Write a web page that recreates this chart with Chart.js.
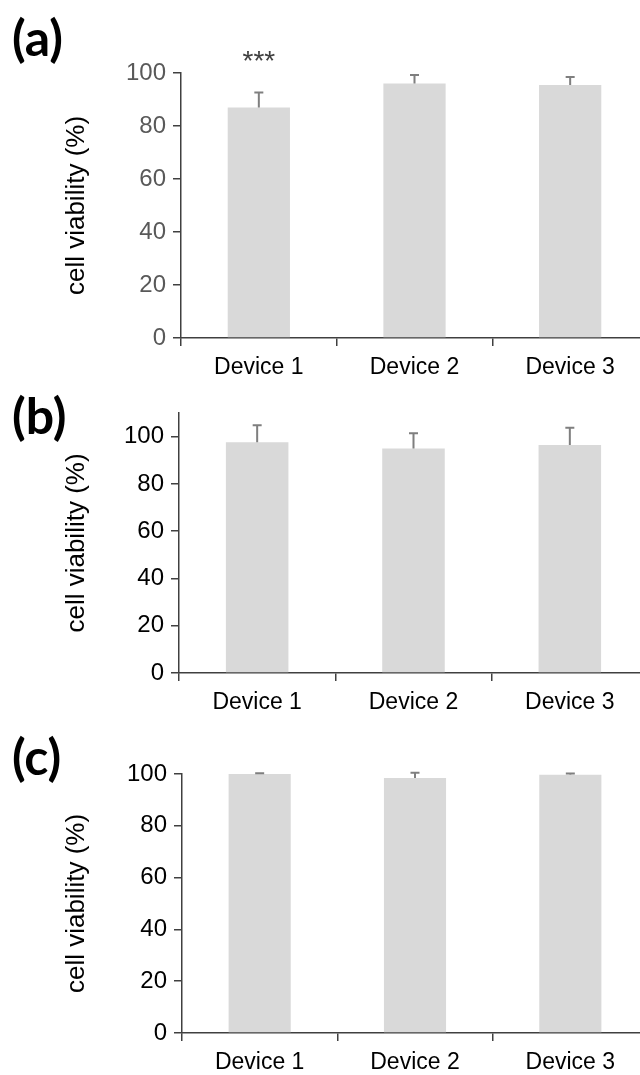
<!DOCTYPE html>
<html><head><meta charset="utf-8">
<script src="https://cdn.jsdelivr.net/npm/chart.js@4/dist/chart.umd.min.js"></script>
<style>
html,body{margin:0;padding:0;background:#fff;width:640px;height:1075px;overflow:hidden;position:relative}
canvas{position:absolute;left:0}
.lbl{position:absolute;font-family:Lato,'Open Sans',sans-serif;font-weight:bold;font-size:50px;line-height:1;color:#000}
</style></head><body>
<div class="lbl" style="left:12px;top:12px">(a)</div>
<div class="lbl" style="left:12px;top:390px">(b)</div>
<div class="lbl" style="left:12px;top:731px">(c)</div>
<canvas id="ca" width="700" height="390" style="top:0px"></canvas>
<canvas id="cb" width="700" height="340" style="top:380px"></canvas>
<canvas id="cc" width="700" height="355" style="top:720px"></canvas>
<script>
const categories = ['Device 1', 'Device 2', 'Device 3'];
const viabilityA = [87, 96, 95.5];
const errorA = [5.6, 3.2, 3.0];
const viabilityB = [97.6, 95.0, 96.5];
const errorB = [7.2, 6.4, 7.3];
const viabilityC = [100, 98.5, 99.7];
const errorC = [0.3, 2.0, 0.5];
const yTicks = [0, 20, 40, 60, 80, 100];
const yTitle = 'cell viability (%)';
const sigA = ['***', '', ''];
const sigLevelA = 104;

const FONT = "'Liberation Sans', Arial, sans-serif";

const errorBars = {
  id: 'errorBars',
  afterDatasetsDraw(chart, args, opts) {
    const ctx = chart.ctx, y = chart.scales.y;
    const meta = chart.getDatasetMeta(0);
    const ds = chart.data.datasets[0];
    ctx.save();
    ctx.strokeStyle = opts.color;
    ctx.lineWidth = opts.width;
    meta.data.forEach((bar, i) => {
      const v = ds.data[i], e = ds.errors[i];
      const y0 = y.getPixelForValue(v), y1 = y.getPixelForValue(v + e);
      ctx.beginPath();
      ctx.moveTo(bar.x, y0); ctx.lineTo(bar.x, y1);
      ctx.moveTo(bar.x - opts.cap, y1); ctx.lineTo(bar.x + opts.cap, y1);
      ctx.stroke();
      if (ds.sig && ds.sig[i]) {
        ctx.fillStyle = '#404040';
        ctx.font = '28px ' + FONT;
        ctx.textAlign = 'center';
        ctx.textBaseline = 'middle';
        ctx.fillText(ds.sig[i], bar.x, y.getPixelForValue(ds.sigLevel));
      }
    });
    ctx.restore();
  }
};

function makeChart(id, values, errors, o) {
  return new Chart(document.getElementById(id), {
    type: 'bar',
    data: {
      labels: categories,
      datasets: [{
        data: values, errors: errors, sig: o.sig, sigLevel: o.sigLevel,
        backgroundColor: '#d9d9d9', borderWidth: 0,
        barPercentage: 0.4, categoryPercentage: 1
      }]
    },
    options: {
      responsive: false, animation: false,
      layout: { padding: { top: o.top, left: 60, right: 52, bottom: o.bottom } },
      plugins: {
        legend: { display: false }, tooltip: { enabled: false },
        errorBars: { color: '#7f7f7f', width: 2, cap: 4.5 }
      },
      scales: {
        x: {
          grid: { offset: true, drawOnChartArea: false, drawTicks: true, tickLength: 8, color: '#404040', lineWidth: 1.5 },
          border: { color: '#404040', width: 1.5 },
          ticks: { font: { family: FONT, size: 23 }, color: '#000', padding: 8 },
          afterFit(s) { s.height = 40; }
        },
        y: {
          min: 0, max: o.max,
          afterBuildTicks(s) { s.ticks = yTicks.map(v => ({ value: v })); },
          grid: { drawOnChartArea: false, drawTicks: true, tickLength: 8, color: '#404040', lineWidth: 1.5 },
          border: { color: '#404040', width: 1.5 },
          ticks: { font: { family: FONT, size: 24 }, color: o.tickColor, padding: 7 },
          title: { display: true, text: yTitle, font: { family: FONT, size: 26 }, color: '#000', padding: { top: 1, bottom: 0 } },
          afterFit(s) { s.width = o.left - 60; }
        }
      }
    },
    plugins: [errorBars]
  });
}

makeChart('ca', viabilityA, errorA, { max: 100, top: 73, bottom: 12, left: 181, tickColor: '#595959', sig: sigA, sigLevel: sigLevelA });
makeChart('cb', viabilityB, errorB, { max: 110, top: 33, bottom: 7, left: 179, tickColor: '#000' });
makeChart('cc', viabilityC, errorC, { max: 100, top: 54, bottom: 2, left: 182, tickColor: '#000' });
</script>
</body></html>
